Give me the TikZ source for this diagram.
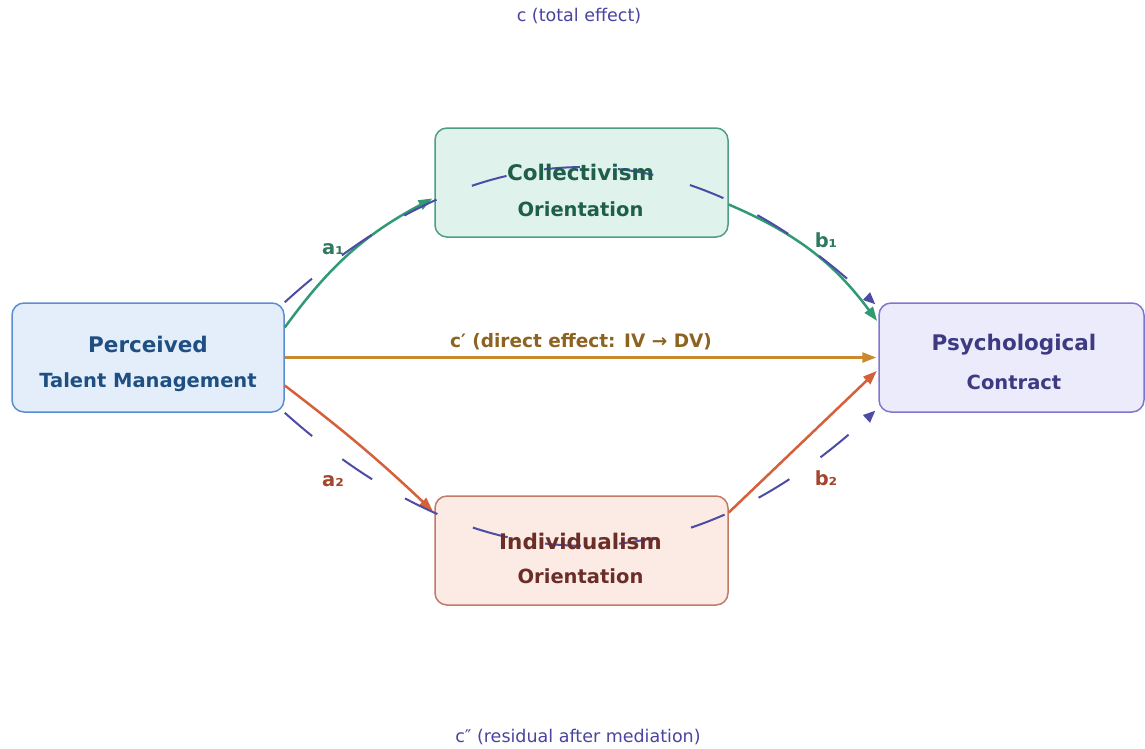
\documentclass[tikz,border=0pt]{standalone}
\usepackage{fontspec}
\setmainfont{DejaVu Sans}
\usetikzlibrary{arrows.meta}
\definecolor{ivfill}{HTML}{E4EEFA}\definecolor{ivdraw}{HTML}{5B8ED1}\definecolor{ivtext}{HTML}{1F4F82}
\definecolor{mcfill}{HTML}{DFF3EC}\definecolor{mcdraw}{HTML}{4F9E7F}\definecolor{mctext}{HTML}{1E5E4B}
\definecolor{dvfill}{HTML}{ECEBFB}\definecolor{dvdraw}{HTML}{8076CF}\definecolor{dvtext}{HTML}{3D3A82}
\definecolor{mifill}{HTML}{FBEBE4}\definecolor{midraw}{HTML}{C17A66}\definecolor{mitext}{HTML}{6B2D27}
\definecolor{grn}{HTML}{2F9A73}\definecolor{grnlab}{HTML}{2E7A5E}
\definecolor{gld}{HTML}{C98A2E}\definecolor{gldlab}{HTML}{8D6322}
\definecolor{rd}{HTML}{D5603A}\definecolor{rdlab}{HTML}{A4452D}
\definecolor{ind}{HTML}{4C4CA6}\definecolor{indlab}{HTML}{4A44A0}
\begin{document}
\begin{tikzpicture}[x=1pt,y=-1pt,
  boxnode/.style={rounded corners=12pt, line width=1.5pt, inner sep=0pt, minimum height=109pt},
  line1/.style={anchor=base, font=\fontsize{21.5}{24}\selectfont\bfseries},
  line2/.style={anchor=base, font=\fontsize{19.5}{22}\selectfont\bfseries},
  patharrow/.style={line width=2.5pt, -{Triangle[length=14pt,width=10pt]}, shorten >=2pt},
  pathlab/.style={font=\fontsize{19.5}{22}\selectfont\bfseries},
  arcstyle/.style={ind, line width=2pt, dash pattern=on 36pt off 38pt, -{Triangle[length=12pt,width=10pt]}},
  notelab/.style={anchor=base, indlab, font=\fontsize{17.5}{20}\selectfont}]
\useasboundingbox (0,0) rectangle (1145,748);
\fill[white] (0,0) rectangle (1145,748);
% boxes
\node[boxnode, fill=ivfill, draw=ivdraw, minimum width=272pt] (iv) at (148,357.5) {};
\node[boxnode, fill=mcfill, draw=mcdraw, minimum width=293pt] (mc) at (581.5,182.5) {};
\node[boxnode, fill=mifill, draw=midraw, minimum width=293pt] (mi) at (581.5,550.5) {};
\node[boxnode, fill=dvfill, draw=dvdraw, minimum width=265pt] (dv) at (1011.5,357.5) {};
% path arrows
\draw[patharrow, grn] ([yshift=30pt]iv.east) to[bend left=13] ([yshift=-15pt]mc.west);
\draw[patharrow, grn] ([yshift=-22pt]mc.east) to[bend left=15] ([yshift=35pt]dv.west);
\draw[patharrow, gld] (iv.east) -- (dv.west);
\draw[patharrow, rd] ([yshift=-28pt]iv.east) to[bend left=3] ([yshift=38pt]mi.west);
\draw[patharrow, rd] ([yshift=38pt]mi.east) -- ([yshift=-12pt]dv.west);
% total effect arcs
\draw[arcstyle] (iv.north east) .. controls (482,123) and (681,123) .. ([xshift=-3pt,yshift=-2pt]dv.north west);
\draw[arcstyle] (iv.south east) .. controls (482,589) and (681,589) .. ([xshift=-3pt,yshift=2pt]dv.south west);
% box texts
\node[line1, ivtext] (ivt1) at (148,352) {Perceived};
\node[line2, ivtext] (ivt2) at (148,387) {Talent Management};
\node[line1, mctext] (mct1) at (580.5,180) {Collectivism};
\node[line2, mctext] (mct2) at (580.5,216) {Orientation};
\node[line1, mitext] (mit1) at (580.5,549) {Individualism};
\node[line2, mitext] (mit2) at (580.5,583) {Orientation};
\node[line1, dvtext] (dvt1) at (1014,350) {Psychological};
\node[line2, dvtext] (dvt2) at (1014,389) {Contract};
% path labels
\node[pathlab, grnlab] (la1) at (333,249) {a₁};
\node[pathlab, grnlab] (lb1) at (826,240) {b₁};
\node[pathlab, rdlab] (la2) at (333,481) {a₂};
\node[pathlab, rdlab] (lb2) at (826,478) {b₂};
\node[anchor=base, gldlab, font=\fontsize{18.5}{21}\selectfont\bfseries] (lc) at (581,347) {c′ (direct effect: IV → DV)};
% notes
\node[notelab] (ltop) at (579,21) {c (total effect)};
\node[notelab] (lbot) at (578,742) {c″ (residual after mediation)};
\end{tikzpicture}
\end{document}
